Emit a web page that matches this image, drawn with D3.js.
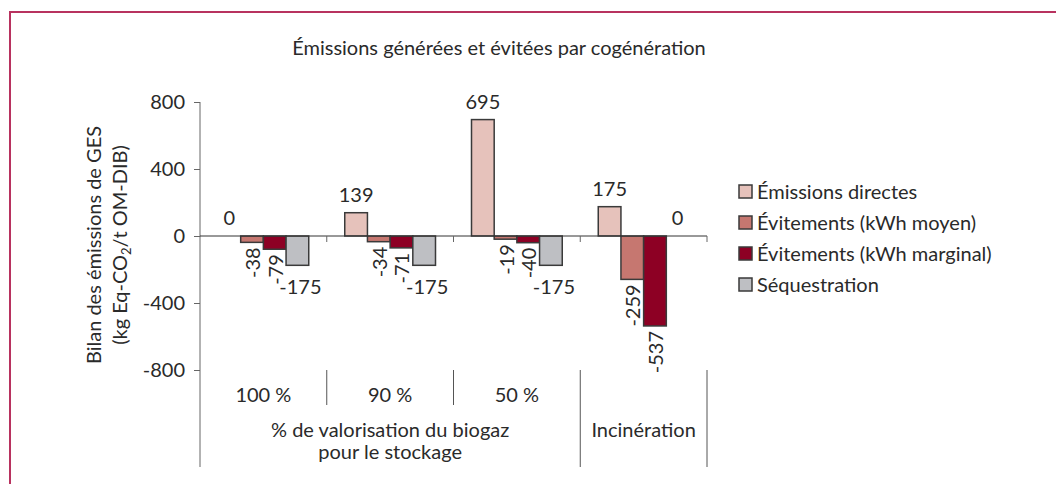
<!doctype html>
<html lang="fr">
  <head>
    <meta charset="utf-8"/>
    <title>Émissions générées et évitées par cogénération</title>
    <script src="https://d3js.org/d3.v7.min.js"></script>
    <style>
      body { margin: 0; background: #fff; }
      text { font-family: Lato, "Open Sans", sans-serif; fill: #2a2a2a; }
    </style>
  </head>
  <body>
    <div id="chart"></div>
    <script>
      // data
      var categories = ["100 %", "90 %", "50 %", "Incinération"];
      var series = ["Émissions directes", "Évitements (kWh moyen)", "Évitements (kWh marginal)", "Séquestration"];
      var directes = [0, 139, 695, 175];
      var moyen = [-38, -34, -19, -259];
      var marginal = [-79, -71, -40, -537];
      var sequestration = [-175, -175, -175, 0];
      var yTicks = [800, 400, 0, -400, -800];
      var colors = ["#e6c2bb", "#c67770", "#8d0024", "#bebfc3"];

      var values = [directes, moyen, marginal, sequestration];

      var w = 1056, h = 484;
      var fs = 20;

      var svg = d3.select("#chart")
        .append("svg")
        .attr("width", w)
        .attr("height", h);

      // frame
      svg.append("path")
        .attr("d", "M10,484 V12 H1056")
        .attr("fill", "none")
        .attr("stroke", "#b8325f")
        .attr("stroke-width", 2);

      // title
      svg.append("text")
        .attr("x", 499).attr("y", 55)
        .attr("text-anchor", "middle")
        .attr("font-size", fs)
        .text("Émissions générées et évitées par cogénération");

      // scales
      var xScale = d3.scaleBand()
        .domain(categories)
        .range([200, 707]);

      var xInner = d3.scaleBand()
        .domain(series)
        .range([18, xScale.bandwidth() - 18]);

      var yScale = d3.scaleLinear()
        .domain([-800, 800])
        .range([370, 102]);

      // y axis
      var yAxis = d3.axisLeft(yScale)
        .tickValues(yTicks)
        .tickSize(6)
        .tickPadding(9)
        .tickFormat(function(d) { return String(d); });

      var gy = svg.append("g")
        .attr("transform", "translate(200,0)")
        .call(yAxis);
      gy.select(".domain").remove();
      gy.selectAll(".tick line").attr("stroke", "#666");
      gy.selectAll(".tick text")
        .attr("font-size", fs)
        .attr("font-family", "Lato, sans-serif")
        .attr("fill", "#2a2a2a");

      svg.append("line")
        .attr("x1", 200).attr("x2", 200)
        .attr("y1", yScale(800)).attr("y2", 467)
        .attr("stroke", "#666");

      // y title
      var yt = svg.append("text")
        .attr("transform", "translate(101,245) rotate(-90)")
        .attr("text-anchor", "middle")
        .attr("font-size", fs);
      yt.append("tspan").attr("x", 0).attr("dy", 0).text("Bilan des émissions de GES");
      var t2 = yt.append("tspan").attr("x", 0).attr("dy", 26);
      t2.append("tspan").text("(kg Eq-CO");
      t2.append("tspan").attr("font-size", 13).attr("dy", 4).text("2");
      t2.append("tspan").attr("dy", -4).text("/t OM-DIB)");

      // bars
      var groups = svg.selectAll("g.cat")
        .data(categories)
        .enter()
        .append("g")
        .attr("class", "cat")
        .attr("transform", function(d) { return "translate(" + xScale(d) + ",0)"; });

      series.forEach(function(s, si) {
        groups.append("rect")
          .attr("x", xInner(s))
          .attr("width", xInner.bandwidth())
          .attr("y", function(d, ci) { return yScale(Math.max(0, values[si][ci])); })
          .attr("height", function(d, ci) { return Math.abs(yScale(values[si][ci]) - yScale(0)); })
          .attr("fill", colors[si])
          .attr("stroke", "#3a3a3a")
          .attr("stroke-width", 1.5)
          .style("display", function(d, ci) { return values[si][ci] === 0 ? "none" : null; });

        // labels
        groups.append("text")
          .attr("font-size", fs)
          .attr("text-anchor", function(d, ci) {
            var v = values[si][ci];
            if (v < 0 && si < 3) return "end";
            return "middle";
          })
          .attr("dominant-baseline", function(d, ci) {
            var v = values[si][ci];
            return (v < 0 && si < 3) ? "central" : null;
          })
          .attr("transform", function(d, ci) {
            var v = values[si][ci];
            var cx = xInner(s) + xInner.bandwidth() / 2;
            if (v > 0) return "translate(" + cx + "," + (yScale(v) - 11) + ")";
            if (v === 0) return "translate(" + cx + "," + (yScale(0) - 11) + ")";
            if (si === 3) return "translate(" + (cx + 3) + "," + (yScale(v) + 29) + ")";
            return "translate(" + cx + "," + (yScale(v) + 5) + ") rotate(-90)";
          })
          .text(function(d, ci) { return values[si][ci]; });
      });

      // zero line
      svg.append("line")
        .attr("x1", 200).attr("x2", 707)
        .attr("y1", yScale(0)).attr("y2", yScale(0))
        .attr("stroke", "#333");

      // category ticks on zero line
      categories.forEach(function(c) {
        var x = xScale(c) + xScale.bandwidth();
        svg.append("line")
          .attr("x1", x).attr("x2", x)
          .attr("y1", yScale(0)).attr("y2", yScale(0) + 6)
          .attr("stroke", "#666");
      });

      // category labels and separators
      categories.forEach(function(c, i) {
        svg.append("text")
          .attr("x", xScale(c) + xScale.bandwidth() / 2)
          .attr("y", i < 3 ? 402 : 437)
          .attr("text-anchor", "middle")
          .attr("font-size", fs)
          .text(c);
        var x = xScale(c) + xScale.bandwidth();
        svg.append("line")
          .attr("x1", x).attr("x2", x)
          .attr("y1", 370).attr("y2", i < 2 ? 405 : 467)
          .attr("stroke", "#555");
      });

      var gx = (xScale(categories[0]) + xScale(categories[3])) / 2;
      svg.append("text")
        .attr("x", gx).attr("y", 437)
        .attr("text-anchor", "middle")
        .attr("font-size", fs)
        .text("% de valorisation du biogaz");
      svg.append("text")
        .attr("x", gx).attr("y", 459)
        .attr("text-anchor", "middle")
        .attr("font-size", fs)
        .text("pour le stockage");

      // legend
      var legend = svg.selectAll("g.legend")
        .data(series)
        .enter()
        .append("g")
        .attr("class", "legend")
        .attr("transform", function(d, i) { return "translate(739," + (185 + i * 31) + ")"; });
      legend.append("rect")
        .attr("width", 13).attr("height", 13)
        .attr("fill", function(d, i) { return colors[i]; })
        .attr("stroke", "#3a3a3a")
        .attr("stroke-width", 1.5);
      legend.append("text")
        .attr("x", 18).attr("y", 14)
        .attr("font-size", fs)
        .text(function(d) { return d; });
    </script>
  </body>
</html>
